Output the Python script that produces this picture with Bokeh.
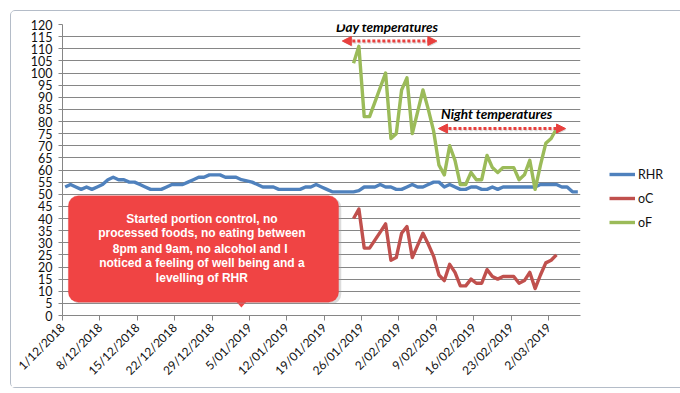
import math
import numpy as np
from bokeh.plotting import figure
from bokeh.models import (Range1d, FixedTicker, Legend, LegendItem, BoxAnnotation,
                          Label, Arrow, NormalHead, ColumnDataSource)
from bokeh.embed import file_html
from bokeh.resources import INLINE

# ---------------- data ----------------
tick_labels = ["1/12/2018", "8/12/2018", "15/12/2018", "22/12/2018", "29/12/2018",
               "5/01/2019", "12/01/2019", "19/01/2019", "26/01/2019", "2/02/2019",
               "9/02/2019", "16/02/2019", "23/02/2019", "2/03/2019"]
n_days = 97  # 1/12/2018 .. 7/03/2019

rhr = [53, 54, 53, 52, 53, 52, 53, 54, 56, 57,
       56, 56, 55, 55, 54, 53, 52, 52, 52, 53,
       54, 54, 54, 55, 56, 57, 57, 58, 58, 58,
       57, 57, 57, 56, 55.5, 55, 54, 53, 53, 53,
       52, 52, 52, 52, 52, 53, 53, 54, 53, 52,
       51, 51, 51, 51, 51, 51.5, 53, 53, 53, 54,
       53, 53, 52, 52, 53, 54, 53, 53, 54, 55,
       55, 53, 54, 53, 52, 52, 53, 53, 52, 52,
       53, 52, 53, 53, 53, 53, 53, 53, 53, 54,
       54, 54, 54, 53, 53, 51, 51]

temp_start = 54  # first day with temperatures (24/01/2019)
oC = [40.0, 43.9, 27.8, 27.8, 31.1, 34.4, 37.8, 22.8, 23.9, 33.9,
      36.7, 23.9, 28.9, 33.9, 29.4, 24.4, 16.7, 14.4, 21.1, 17.8,
      12.2, 12.2, 15.0, 13.3, 13.3, 18.9, 16.1, 15.0, 16.1, 16.1,
      16.1, 13.3, 14.4, 17.8, 11.1, 16.7, 21.7, 22.8, 25.0]
oF = [104, 111, 82, 82, 88, 94, 100, 73, 75, 93,
      98, 75, 84, 93, 85, 76, 62, 58, 70, 64,
      54, 54, 59, 56, 56, 66, 61, 59, 61, 61,
      61, 56, 58, 64, 52, 62, 71, 73, 77]

# ---------------- figure ----------------
FONT = "Lato"
GRID = "#868686"

p = figure(frame_width=518, frame_height=291, output_backend="svg",
           toolbar_location=None,
           x_range=Range1d(0, n_days), y_range=Range1d(0, 120),
           min_border_left=51, min_border_right=95, min_border_top=13,
           min_border_bottom=72)
p.margin = (10, 0, 0, 10)
p.styles = {"border": "1px solid #b4bcc8", "border-radius": "5px"}
p.outline_line_color = None
p.background_fill_color = "white"
p.border_fill_color = "white"

# axes
p.yaxis.ticker = FixedTicker(ticks=list(range(0, 121, 5)))
p.yaxis.axis_line_color = GRID
p.yaxis.major_tick_line_color = GRID
p.yaxis.major_tick_out = 4
p.yaxis.major_tick_in = 0
p.yaxis.minor_tick_line_color = None
p.yaxis.major_label_standoff = 6
p.yaxis.major_label_text_font = FONT
p.yaxis.major_label_text_font_size = "12.5px"
p.yaxis.major_label_text_color = "#111111"

tick_pos = [7 * i for i in range(len(tick_labels))]
p.xaxis.ticker = FixedTicker(ticks=tick_pos)
p.xaxis.major_label_overrides = {t: lab for t, lab in zip(tick_pos, tick_labels)}
p.xaxis.major_label_orientation = math.pi / 4
p.xaxis.axis_line_color = GRID
p.xaxis.major_tick_line_color = GRID
p.xaxis.major_tick_out = 5
p.xaxis.major_tick_in = 0
p.xaxis.minor_tick_line_color = None
p.xaxis.major_label_standoff = 5
p.xaxis.major_label_text_font = FONT
p.xaxis.major_label_text_font_size = "12px"
p.xaxis.major_label_text_color = "#111111"

p.xgrid.grid_line_color = None
p.ygrid.ticker = FixedTicker(ticks=list(range(0, 121, 5)))
p.ygrid.grid_line_color = GRID
p.ygrid.grid_line_width = 1

# ---------------- series ----------------
x_all = np.arange(n_days) + 0.5
x_temp = np.arange(temp_start, temp_start + len(oF)) + 0.5

src_rhr = ColumnDataSource(dict(x=x_all, y=rhr))
src_t = ColumnDataSource(dict(x=x_temp, c=oC, f=oF))

r_rhr = p.line("x", "y", source=src_rhr, line_color="#4F81BD", line_width=3.4,
               line_join="round")
r_c = p.line("x", "c", source=src_t, line_color="#C0504D", line_width=3.4,
             line_join="round")
r_f = p.line("x", "f", source=src_t, line_color="#9BBB59", line_width=3.4,
             line_join="round")

legend = Legend(items=[LegendItem(label="RHR", renderers=[r_rhr]),
                       LegendItem(label="oC", renderers=[r_c]),
                       LegendItem(label="oF", renderers=[r_f])],
                location=(29, 85), padding=0, margin=0, spacing=8,
                glyph_width=26, glyph_height=16, label_height=16,
                label_standoff=3, border_line_color=None,
                background_fill_alpha=0,
                label_text_font=FONT, label_text_font_size="12.5px",
                label_text_color="#111111")
p.add_layout(legend, "right")

# ---------------- annotations ----------------
RED = "#E8403E"
SHADOW = "#9a9a9a"

# callout box with shadow
p.add_layout(BoxAnnotation(left=1.6, right=52.2, bottom=4.7, top=48.6,
                           fill_color=SHADOW, fill_alpha=0.35, line_color=None,
                           border_radius=10))
p.add_layout(BoxAnnotation(left=1.1, right=51.7, bottom=5.5, top=49.4,
                           fill_color="#F04444", fill_alpha=1, line_color="#E03838",
                           line_width=1, border_radius=10))
p.patch([32.6, 34.4, 33.5], [5.6, 5.6, 3.3], fill_color="#F04444", line_color=None)

lines = ["Started portion control, no",
         "processed foods, no eating between",
         "8pm and 9am, no alcohol  and I",
         "noticed a feeling of well being and a",
         "levelling of RHR"]
ys = [40.0, 33.9, 27.6, 21.7, 15.5]
for t, yy in zip(lines, ys):
    p.add_layout(Label(x=26.1, y=yy, text=t, text_align="center",
                       text_baseline="middle", text_color="white",
                       text_font="Liberation Sans", text_font_style="bold",
                       text_font_size="12px"))

# day / night labels
p.add_layout(Label(x=51.2, y=118.9, text="Day temperatures", text_align="left",
                   text_baseline="middle", text_font=FONT,
                   text_font_style="bold italic", text_font_size="13.5px",
                   text_color="#000000"))
p.add_layout(Label(x=70.9, y=83.1, text="Night temperatures", text_align="left",
                   text_baseline="middle", text_font=FONT,
                   text_font_style="bold italic", text_font_size="13.5px",
                   text_color="#000000"))


def dbl_arrow(x0, x1, y):
    # soft shadow
    p.add_layout(Arrow(x_start=x0 + 0.2, x_end=x1 + 0.2, y_start=y - 0.5, y_end=y - 0.5,
                       line_color=SHADOW, line_alpha=0.35, line_width=3,
                       line_dash="3 2",
                       start=NormalHead(size=9, fill_color=SHADOW, fill_alpha=0.35,
                                        line_color=None),
                       end=NormalHead(size=9, fill_color=SHADOW, fill_alpha=0.35,
                                      line_color=None)))
    p.add_layout(Arrow(x_start=x0, x_end=x1, y_start=y, y_end=y,
                       line_color=RED, line_width=3, line_dash="3 2",
                       start=NormalHead(size=9, fill_color=RED, line_color=RED,
                                        line_width=1),
                       end=NormalHead(size=9, fill_color=RED, line_color=RED,
                                      line_width=1)))


dbl_arrow(52.4, 70.1, 113.2)
dbl_arrow(70.4, 94.2, 77.1)

open("out.html", "w").write(file_html(p, INLINE))
